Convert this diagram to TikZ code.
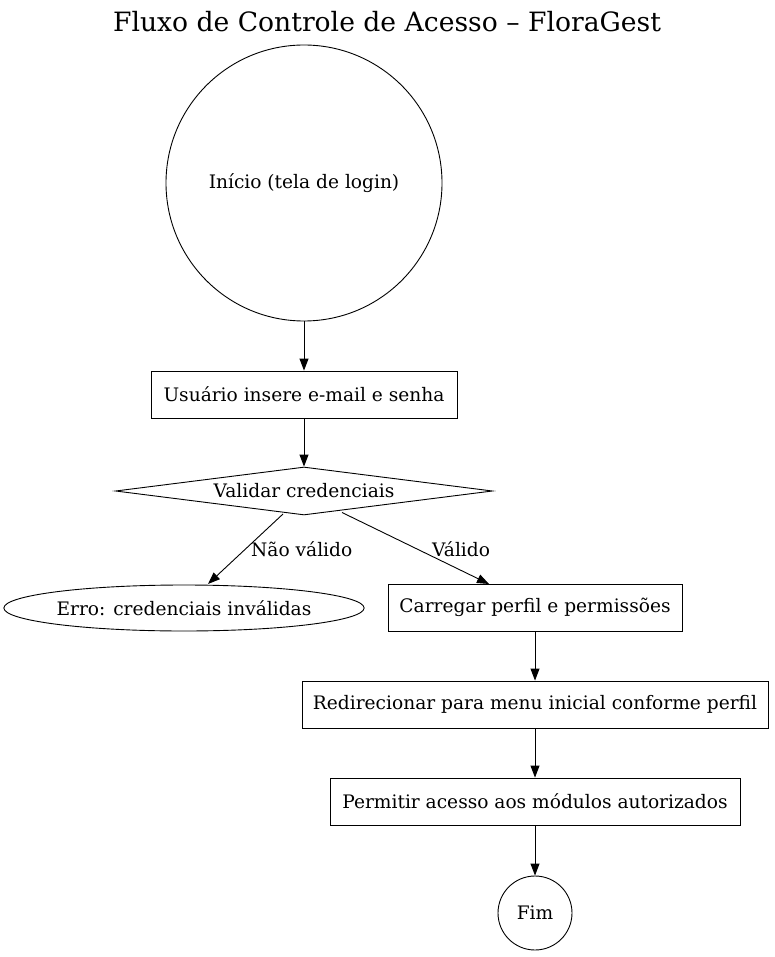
\documentclass[tikz,border=0pt]{standalone}
\usepackage{fontspec}
\setmainfont{DejaVu Serif}
\usetikzlibrary{arrows.meta,shapes.geometric}
\begin{document}
\begin{tikzpicture}[x=1pt,y=-1pt,
  every node/.style={font=\fontsize{18.6}{21}\selectfont, inner sep=0pt},
  boxnode/.style={draw, line width=0.9pt, rectangle, minimum height=47pt},
  circnode/.style={draw, line width=0.9pt, circle},
  link/.style={draw, line width=0.9pt, -{Triangle[length=12pt,width=9pt]}},
  lbl/.style={font=\fontsize{18.6}{21}\selectfont}]
\useasboundingbox (0,0) rectangle (774,957);
\node (title) at (387,22) {\fontsize{26.6}{30}\selectfont Fluxo de Controle de Acesso – FloraGest};
\node[circnode, minimum size=276pt] (start) at (304,183) {Início (tela de login)};
\node[boxnode, minimum width=306pt] (input) at (304,394.5) {Usuário insere e-mail e senha};
\node[draw, line width=0.9pt, diamond, aspect=7.85, minimum width=377pt, minimum height=48pt] (valid) at (304,491) {};
\node (validtxt) at (304,491) {Validar credenciais};
\node[draw, line width=0.9pt, ellipse, minimum width=357pt, minimum height=46pt] (err) at (184,608) {Erro: credenciais inválidas};
\node[boxnode, minimum width=294pt] (load) at (535,607.5) {Carregar perfil e permissões};
\node[boxnode, minimum width=466pt] (redir) at (535,704.5) {Redirecionar para menu inicial conforme perfil};
\node[boxnode, minimum width=410pt] (allow) at (535,801.5) {Permitir acesso aos módulos autorizados};
\node[circnode, minimum size=74pt] (end) at (535,913) {Fim};
\coordinate (vl) at (283,514);
\coordinate (vr) at (342,512.5);
\coordinate (errtop) at (208,584);
\coordinate (loadtop) at (489,584);
\draw[link] (start) -- (input);
\draw[link] (input) -- (valid);
\draw[link] (vl) -- (errtop);
\draw[link] (vr) -- (loadtop);
\node[lbl, anchor=west] (lno) at (251,549) {Não válido};
\node[lbl, anchor=west] (lyes) at (432,549) {Válido};
\draw[link] (load) -- (redir);
\draw[link] (redir) -- (allow);
\draw[link] (allow) -- (end);
\end{tikzpicture}
\end{document}
